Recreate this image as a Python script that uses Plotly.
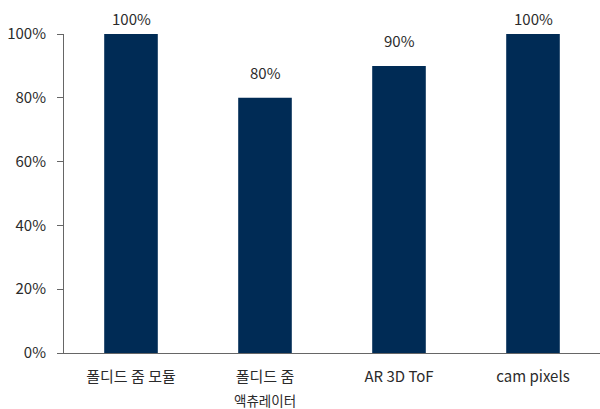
import plotly.graph_objects as go

categories = ["폴디드 줌 모듈", "폴디드 줌", "AR 3D ToF", "cam pixels"]
category_second_line = ["", "액츄레이터", "", ""]
values = [1.00, 0.80, 0.90, 1.00]
value_labels = ["100%", "80%", "90%", "100%"]
y_ticks = [0, 0.2, 0.4, 0.6, 0.8, 1.0]
y_tick_labels = ["0%", "20%", "40%", "60%", "80%", "100%"]

font_family = "Noto Sans CJK KR, Noto Sans, sans-serif"
txt_color = "#2b2b2b"

fig = go.Figure()
fig.add_trace(go.Bar(
    x=categories, y=values, width=0.4,
    marker=dict(color="#002B55", line=dict(width=0)),
    hoverinfo="skip",
))

for c, v, t in zip(categories, values, value_labels):
    fig.add_annotation(x=c, y=v, text=t, showarrow=False, yanchor="middle",
                       yshift=16 if v >= 1 else 25,
                       font=dict(size=15, color=txt_color, family=font_family))

for c, t in zip(categories, category_second_line):
    if t:
        fig.add_annotation(x=c, y=0, yref="y", text=t, showarrow=False,
                           yanchor="middle", yshift=-47,
                           font=dict(size=13.5, color=txt_color, family=font_family))

fig.update_layout(
    width=600, height=409,
    margin=dict(l=64, r=0, t=34, b=56),
    paper_bgcolor="white", plot_bgcolor="white",
    showlegend=False,
    font=dict(family=font_family, size=15, color=txt_color),
    xaxis=dict(showline=True, linecolor="#666666", linewidth=1, ticks="",
               showgrid=False, automargin=False, ticklabelstandoff=10,
               tickfont=dict(size=15, color=txt_color)),
    yaxis=dict(range=[0, 1], tickvals=y_ticks, ticktext=y_tick_labels,
               showline=True, linecolor="#666666", linewidth=1,
               ticks="outside", ticklen=6, tickcolor="#666666",
               showgrid=False, zeroline=False, automargin=False,
               ticklabelstandoff=8,
               tickfont=dict(size=15, color=txt_color)),
)

fig.write_html("out.html", config={"displayModeBar": False},
               post_script="document.body.style.margin='0';document.body.style.overflow='hidden';")
